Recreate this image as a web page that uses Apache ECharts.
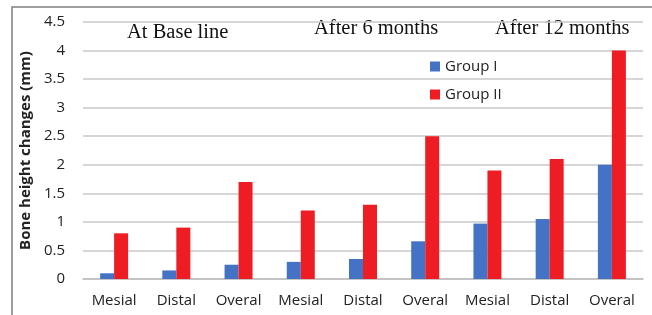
<!DOCTYPE html>
<html>
<head>
<meta charset="utf-8">
<script src="https://cdn.jsdelivr.net/npm/echarts@6/dist/echarts.min.js"></script>
<style>
  html, body { margin: 0; padding: 0; background: #fff; }
  #chart { width: 652px; height: 315px; }
</style>
</head>
<body>
<div id="chart"></div>
<script>
const categories = ['Mesial', 'Distal', 'Overal', 'Mesial', 'Distal', 'Overal', 'Mesial', 'Distal', 'Overal'];
const groupI = [0.1, 0.15, 0.25, 0.3, 0.35, 0.66, 0.97, 1.05, 2.0];
const groupII = [0.8, 0.9, 1.7, 1.2, 1.3, 2.5, 1.9, 2.1, 4.0];
const periods = ['At Base line', 'After 6 months', 'After 12 months'];

const chart = echarts.init(document.getElementById('chart'));
const labelFont = 'Open Sans';
const serif = '20.5px "Liberation Serif"';

const option = {
  animation: false,
  grid: { left: 83, right: 9, top: 22, bottom: 36 },
  legend: {
    orient: 'vertical',
    left: 425,
    top: 54,
    itemWidth: 10,
    itemHeight: 10,
    itemGap: 13,
    icon: 'rect',
    textStyle: { fontFamily: labelFont, fontSize: 15, color: '#222' },
    data: ['Group I', 'Group II']
  },
  xAxis: {
    type: 'category',
    data: categories,
    axisLine: { lineStyle: { color: '#bfbfbf', width: 1.5 } },
    axisTick: { show: false },
    axisLabel: { fontFamily: labelFont, fontSize: 15, color: '#222', margin: 14, interval: 0 }
  },
  yAxis: {
    type: 'value',
    min: 0,
    max: 4.5,
    interval: 0.5,
    name: 'Bone height changes (mm)',
    nameLocation: 'middle',
    nameGap: 40,
    nameTextStyle: { fontFamily: labelFont, fontSize: 15, fontWeight: 'bold', color: '#222' },
    axisLine: { show: false },
    axisTick: { show: false },
    splitLine: { lineStyle: { color: '#c8c8c8', width: 1.5 } },
    axisLabel: { fontFamily: labelFont, fontSize: 15, color: '#222', margin: 18 }
  },
  series: [
    {
      name: 'Group I',
      type: 'bar',
      data: groupI,
      barWidth: 14,
      barGap: '0%',
      itemStyle: { color: '#4472C4' }
    },
    {
      name: 'Group II',
      type: 'bar',
      data: groupII,
      barWidth: 14,
      itemStyle: { color: '#EE1D23' }
    }
  ],
  graphic: [
    {
      type: 'rect',
      shape: { x: 12, y: 7, width: 660, height: 330 },
      style: { fill: 'none', stroke: '#7f7f7f', lineWidth: 1.5 },
      silent: true
    },
    {
      type: 'text', left: 127, top: 22,
      style: { text: periods[0], font: serif, fill: '#111' }
    },
    {
      type: 'text', left: 314, top: 18,
      style: { text: periods[1], font: serif, fill: '#111' }
    },
    {
      type: 'text', left: 495, top: 18,
      style: { text: periods[2], font: serif, fill: '#111' }
    }
  ]
};
chart.setOption(option);
</script>
</body>
</html>
